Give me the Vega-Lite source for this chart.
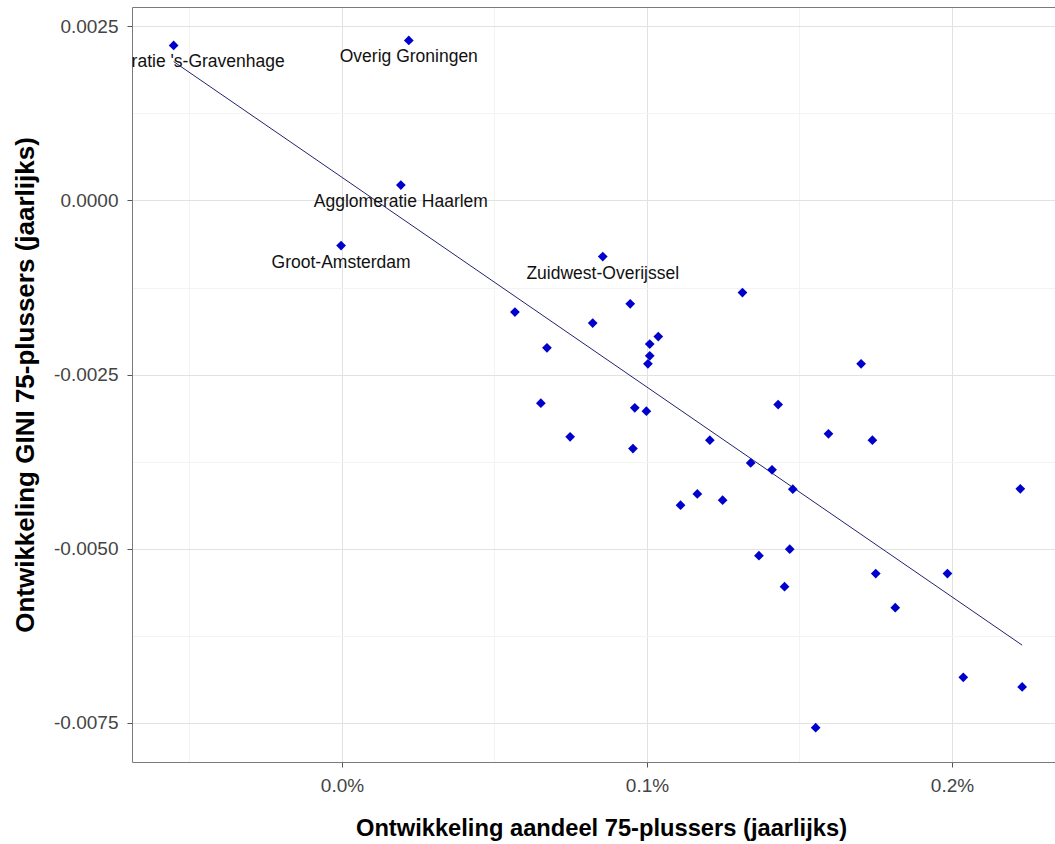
{
  "$schema": "https://vega.github.io/schema/vega-lite/v6.json",
  "width": 923,
  "height": 755,
  "autosize": {"type": "none"},
  "padding": {"left": 132, "top": 7, "right": 0, "bottom": 82},
  "background": "white",
  "config": {"font": "Liberation Sans", "view": {"stroke": null}},
  "data": {
    "values": [
      {"x": -0.000552, "y": 0.002227, "label": "Agglomeratie 's-Gravenhage"},
      {"x": 0.000219, "y": 0.002299, "label": "Overig Groningen"},
      {"x": 0.000193, "y": 0.000221, "label": "Agglomeratie Haarlem"},
      {"x": -0.000003, "y": -0.000647, "label": "Groot-Amsterdam"},
      {"x": 0.000855, "y": -0.000805, "label": "Zuidwest-Overijssel"},
      {"x": 0.000567, "y": -0.001603, "label": null},
      {"x": 0.000945, "y": -0.001484, "label": null},
      {"x": 0.001313, "y": -0.001322, "label": null},
      {"x": 0.000822, "y": -0.001761, "label": null},
      {"x": 0.000672, "y": -0.002116, "label": null},
      {"x": 0.001037, "y": -0.001954, "label": null},
      {"x": 0.001009, "y": -0.002063, "label": null},
      {"x": 0.001009, "y": -0.002231, "label": null},
      {"x": 0.001003, "y": -0.002346, "label": null},
      {"x": 0.001702, "y": -0.002346, "label": null},
      {"x": 0.000652, "y": -0.002911, "label": null},
      {"x": 0.000960, "y": -0.002978, "label": null},
      {"x": 0.000998, "y": -0.003026, "label": null},
      {"x": 0.001430, "y": -0.002931, "label": null},
      {"x": 0.000748, "y": -0.003395, "label": null},
      {"x": 0.000954, "y": -0.003563, "label": null},
      {"x": 0.001206, "y": -0.003443, "label": null},
      {"x": 0.001595, "y": -0.003352, "label": null},
      {"x": 0.001739, "y": -0.003443, "label": null},
      {"x": 0.001340, "y": -0.003769, "label": null},
      {"x": 0.001410, "y": -0.003869, "label": null},
      {"x": 0.001478, "y": -0.004147, "label": null},
      {"x": 0.002224, "y": -0.004142, "label": null},
      {"x": 0.001110, "y": -0.004376, "label": null},
      {"x": 0.001165, "y": -0.004214, "label": null},
      {"x": 0.001248, "y": -0.004305, "label": null},
      {"x": 0.001367, "y": -0.005101, "label": null},
      {"x": 0.001468, "y": -0.005009, "label": null},
      {"x": 0.001750, "y": -0.005359, "label": null},
      {"x": 0.001985, "y": -0.005359, "label": null},
      {"x": 0.001451, "y": -0.005546, "label": null},
      {"x": 0.001814, "y": -0.005848, "label": null},
      {"x": 0.002037, "y": -0.006848, "label": null},
      {"x": 0.002230, "y": -0.006987, "label": null},
      {"x": 0.001553, "y": -0.007572, "label": null}
    ]
  },
  "layer": [
    {
      "mark": {"type": "line", "color": "#22226e", "strokeWidth": 1, "clip": true},
      "transform": [{"regression": "y", "on": "x"}],
      "encoding": {
        "x": {
          "field": "x", "type": "quantitative",
          "scale": {"domain": [-0.0006885, 0.0023377], "nice": false, "zero": false},
          "axis": {"orient": "top", "labels": false, "ticks": false, "grid": false, "domain": true, "domainColor": "#7a7a7a", "domainWidth": 1, "title": null}
        },
        "y": {
          "field": "y", "type": "quantitative",
          "scale": {"domain": [-0.0080647, 0.0027787], "nice": false, "zero": false},
          "axis": {
            "values": [0.0025, 0.00125, 0, -0.00125, -0.0025, -0.00375, -0.005, -0.00625, -0.0075],
            "labelExpr": "abs(datum.value/0.0025 - round(datum.value/0.0025)) < 0.01 ? replace(format(datum.value, '.4f'), '\u2212', '-') : ''",
            "labelFont": "Liberation Sans", "labelFontSize": 19, "labelColor": "#444444", "labelPadding": 9,
            "tickSize": 5, "tickColor": "#555555",
            "tickOpacity": {"condition": {"test": "abs(datum.value/0.0025 - round(datum.value/0.0025)) < 0.01", "value": 1}, "value": 0},
            "grid": true,
            "gridColor": {"condition": {"test": "abs(datum.value/0.0025 - round(datum.value/0.0025)) < 0.01", "value": "#e2e2e2"}, "value": "#f3f3f3"},
            "gridWidth": 1,
            "domainColor": "#7a7a7a",
            "title": "Ontwikkeling GINI 75-plussers (jaarlijks)",
            "titleFont": "Liberation Sans", "titleFontSize": 26, "titleFontWeight": "bold", "titleColor": "#000000", "titlePadding": 15
          }
        }
      }
    },
    {
      "mark": {"type": "point", "shape": "diamond", "filled": true, "size": 95, "color": "#0000cd", "opacity": 1},
      "encoding": {
        "x": {
          "field": "x", "type": "quantitative",
          "scale": {"domain": [-0.0006885, 0.0023377], "nice": false, "zero": false},
          "axis": {
            "orient": "bottom",
            "values": [-0.0005, 0, 0.0005, 0.001, 0.0015, 0.002],
            "labelExpr": "abs(datum.value*1000 - round(datum.value*1000)) < 0.01 ? format(datum.value, '.1%') : ''",
            "labelFont": "Liberation Sans", "labelFontSize": 19, "labelColor": "#444444", "labelPadding": 9,
            "tickSize": 5, "tickColor": "#555555",
            "tickOpacity": {"condition": {"test": "abs(datum.value*1000 - round(datum.value*1000)) < 0.01", "value": 1}, "value": 0},
            "grid": true,
            "gridColor": {"condition": {"test": "abs(datum.value*1000 - round(datum.value*1000)) < 0.01", "value": "#e2e2e2"}, "value": "#f3f3f3"},
            "gridWidth": 1,
            "domainColor": "#7a7a7a",
            "title": "Ontwikkeling aandeel 75-plussers (jaarlijks)",
            "titleFont": "Liberation Sans", "titleFontSize": 23.7, "titleFontWeight": "bold", "titleColor": "#000000", "titlePadding": 21,
            "titleX": 469
          }
        },
        "y": {
          "field": "y", "type": "quantitative",
          "scale": {"domain": [-0.0080647, 0.0027787], "nice": false, "zero": false}
        }
      }
    },
    {
      "transform": [{"filter": "datum.label != null"}],
      "mark": {"type": "text", "font": "Liberation Sans", "fontSize": 17.5, "color": "#111111", "align": "center", "baseline": "alphabetic", "dy": 22, "clip": true},
      "encoding": {
        "x": {
          "field": "x", "type": "quantitative",
          "scale": {"domain": [-0.0006885, 0.0023377], "nice": false, "zero": false},
          "axis": null
        },
        "y": {
          "field": "y", "type": "quantitative",
          "scale": {"domain": [-0.0080647, 0.0027787], "nice": false, "zero": false}
        },
        "text": {"field": "label"}
      }
    }
  ],
  "resolve": {"axis": {"x": "independent"}}
}
